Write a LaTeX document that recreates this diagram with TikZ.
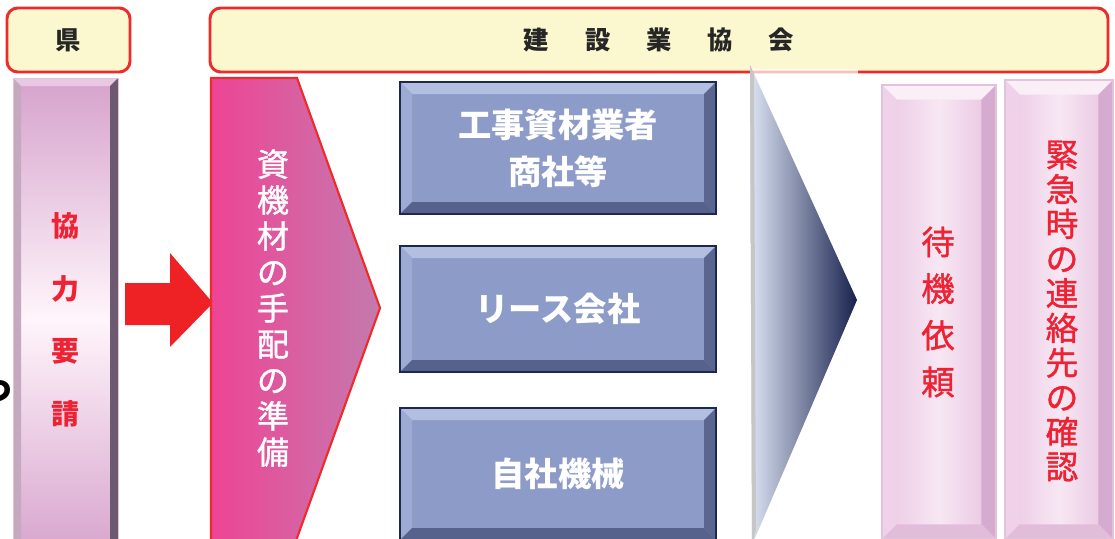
\documentclass[tikz,border=0pt]{standalone}
\usepackage{fontspec}
\setmainfont{Noto Sans CJK JP}
\newfontfamily\cjkmed{Noto Sans CJK JP}[FakeBold=1.2]
\usetikzlibrary{calc}
\definecolor{hdrfill}{HTML}{FBF7CE}
\definecolor{hdrred}{HTML}{EE2A2A}
\definecolor{txtred}{HTML}{EE2233}
\definecolor{bmid}{HTML}{8D9BC8}
\definecolor{btop}{HTML}{B3BFE0}
\definecolor{bleft}{HTML}{9DAAD3}
\definecolor{bright}{HTML}{5B6690}
\definecolor{bbot}{HTML}{56628C}
\definecolor{bdark}{HTML}{1D2753}
\definecolor{ptop}{HTML}{FAEEF7}
\definecolor{pleft}{HTML}{EFD2E9}
\definecolor{pright}{HTML}{D5ABCF}
\definecolor{pbot}{HTML}{E2BCDB}
\definecolor{pline}{HTML}{E3C2DC}
\definecolor{chevL}{HTML}{EE4494}
\definecolor{chevR}{HTML}{C47AAE}
\definecolor{arrred}{HTML}{EE2225}
\definecolor{pcL}{HTML}{EBC7E3}
\definecolor{pcR}{HTML}{E8C2E0}
\definecolor{pcM}{HTML}{F7E7F3}
\definecolor{lpTop}{HTML}{D6A2CC}
\definecolor{lpMid}{HTML}{FFF5FB}
\definecolor{lpBevT}{HTML}{E9C8E3}
\definecolor{lpBevL}{HTML}{C4A9C1}
\definecolor{lpBevR}{HTML}{6E5A70}
\definecolor{triL}{HTML}{DDE4F4}
\definecolor{triM}{HTML}{8090C2}
\definecolor{triR}{HTML}{17214C}
\tikzset{
  bevel/.style n args={5}{path picture={
    \path (path picture bounding box.north west) coordinate (pA)
          (path picture bounding box.north east) coordinate (pB)
          (path picture bounding box.south east) coordinate (pC)
          (path picture bounding box.south west) coordinate (pD);
    \fill[#2] (pA) -- (pB) -- ([shift={(-#1,-#1)}]pB) -- ([shift={(#1,-#1)}]pA) -- cycle;
    \fill[#3] (pA) -- ([shift={(#1,-#1)}]pA) -- ([shift={(#1,#1)}]pD) -- (pD) -- cycle;
    \fill[#4] (pB) -- (pC) -- ([shift={(-#1,#1)}]pC) -- ([shift={(-#1,-#1)}]pB) -- cycle;
    \fill[#5] (pD) -- (pC) -- ([shift={(-#1,#1)}]pC) -- ([shift={(#1,#1)}]pD) -- cycle;
  }},
  hdr/.style={draw=hdrred, line width=2.2pt, fill=hdrfill, rounded corners=8pt,
    inner sep=0pt, font=\bfseries\fontsize{19pt}{22pt}\selectfont, text=black!85},
  bluebox/.style={draw=bdark, line width=1.6pt, fill=bmid, inner sep=0pt,
    bevel={9pt}{btop}{bleft}{bright}{bbot}, text=white, align=center,
    font=\bfseries\fontsize{25pt}{35pt}\selectfont},
  pinkpillar/.style={draw=pline, line width=0.8pt, inner sep=0pt,
    left color=pcL, right color=pcR, middle color=pcM,
    bevel={11pt}{ptop}{pleft}{pright}{pbot}},
  vlabel/.style={align=center, inner sep=0pt, text=txtred},
}
\begin{document}
\begin{tikzpicture}[x=0.75pt,y=-0.75pt]
\useasboundingbox (0,0) rectangle (1115,539);
\fill[white] (0,0) rectangle (1115,539);

% fragment of text at the left edge
\node[anchor=east, inner sep=0pt, font=\bfseries\fontsize{24pt}{24pt}\selectfont] (frag) at (13,392) {つ};

% header boxes
\node[hdr, minimum width={123*0.75pt}, minimum height={64*0.75pt}] (ken) at (68.5,40) {県};
\node[hdr, minimum width={898*0.75pt}, minimum height={64*0.75pt}] (kyokai) at (659,40)
  {建\hspace{27pt}設\hspace{27pt}業\hspace{27pt}協\hspace{27pt}会};

% left pillar
\node[draw=pline, line width=0.6pt, inner sep=0pt, minimum width={105*0.75pt}, minimum height={482*0.75pt},
  top color=lpTop, bottom color=lpTop, middle color=lpMid,
  bevel={6pt}{lpBevT}{lpBevL}{lpBevR}{lpBevT}] (kpill) at (65.5,319) {};
\node[vlabel, font=\bfseries\fontsize{21pt}{47pt}\selectfont] (kyoryoku) at (65,320) {協\\力\\要\\請};

% red block arrow
\coordinate (arrS) at (125,304);
\coordinate (arrT) at (213,303);
\fill[arrred] ($(arrS)+(0,-21)$) -- ($(arrS)+(45,-21)$) -- ($(arrT)+(-43,-50)$) -- (arrT)
  -- ($(arrT)+(-43,44)$) -- ($(arrS)+(45,21)$) -- ($(arrS)+(0,21)$) -- cycle;

% chevron
\shadedraw[left color=chevL, right color=chevR, draw=hdrred, line width=1.6pt]
  (211,78) -- (297,78) -- (380,308) -- (297,538) -- (297,545) -- (211,545) -- cycle;
\node[align=center, inner sep=0pt, text=white, font=\cjkmed\fontsize{24pt}{27pt}\selectfont] (shizai) at (273,308)
  {資\\機\\材\\の\\手\\配\\の\\準\\備};

% blue boxes
\node[bluebox, minimum width={316*0.75pt}, minimum height={132*0.75pt}] (b1) at (558,148) {工事資材業者\\商社等};
\node[bluebox, minimum width={316*0.75pt}, minimum height={126*0.75pt}] (b2) at (558,309) {リース会社};
\node[bluebox, minimum width={316*0.75pt}, minimum height={132*0.75pt}] (b3) at (558,474) {自社機械};

% blue triangle
\fill[white, opacity=0.7] (752,69) rectangle (858,76);
\shade[left color=triL, middle color=triM, right color=triR]
  (750,65) -- (857,300) -- (752,545) -- cycle;
\fill[gray!45] (750,65) -- (754,74) -- (756,530) -- (752,545) -- cycle;

% right pillars
\node[pinkpillar, minimum width={114*0.75pt}, minimum height={454*0.75pt}] (p1) at (939,312) {};
\node[vlabel, font=\cjkmed\fontsize{25pt}{35pt}\selectfont] (taiki) at (938,312) {待\\機\\依\\頼};
\node[pinkpillar, minimum width={108*0.75pt}, minimum height={459*0.75pt}] (p2) at (1059,309.5) {};
\node[vlabel, font=\cjkmed\fontsize{24.5pt}{26pt}\selectfont] (kinkyu) at (1062,311)
  {緊\\急\\時\\の\\連\\絡\\先\\の\\確\\認};
\end{tikzpicture}
\end{document}
